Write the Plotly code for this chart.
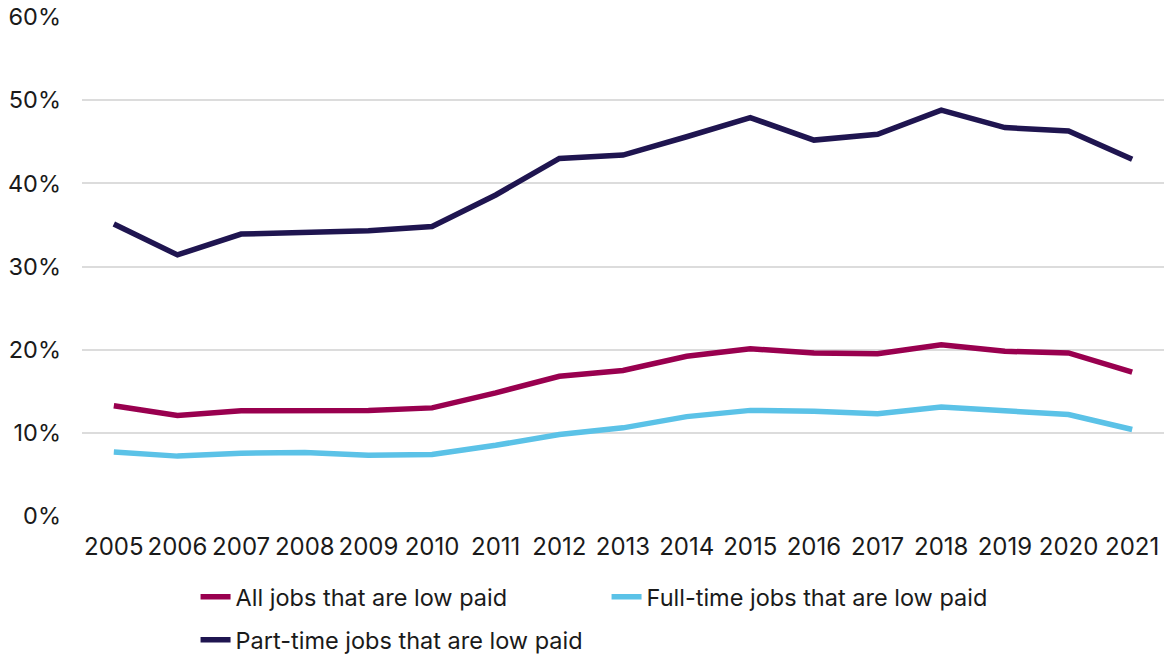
import plotly.graph_objects as go

years = [str(y) for y in range(2005, 2022)]
all_jobs = [13.25, 12.1, 12.65, 12.7, 12.7, 13.0, 14.8, 16.8, 17.5, 19.2, 20.1, 19.6, 19.5, 20.6, 19.8, 19.6, 17.3]
full_time = [7.7, 7.2, 7.55, 7.65, 7.3, 7.4, 8.5, 9.8, 10.6, 11.95, 12.7, 12.6, 12.3, 13.1, 12.65, 12.2, 10.4]
part_time = [35.1, 31.4, 33.9, 34.1, 34.3, 34.8, 38.6, 43.0, 43.4, 45.6, 47.9, 45.2, 45.9, 48.8, 46.7, 46.3, 42.9]

names = ["All jobs that are low paid", "Full-time jobs that are low paid", "Part-time jobs that are low paid"]
colors = ["#99004F", "#5BC2E7", "#1F1550"]
legends = ["legend", "legend", "legend2"]

fig = go.Figure()
for name, vals, col, lg in zip(names, [all_jobs, full_time, part_time], colors, legends):
    fig.add_trace(go.Scatter(x=years, y=vals, mode="lines", name=name,
                             line=dict(color=col, width=5.5), legend=lg))

legend_common = dict(orientation="h", xanchor="left", yanchor="middle",
                     xref="container", yref="container",
                     entrywidth=366, entrywidthmode="pixels",
                     font=dict(size=23.5), bgcolor="rgba(0,0,0,0)")

fig.update_layout(
    width=1164, height=655,
    margin=dict(l=82, r=0, t=17, b=139, autoexpand=False),
    paper_bgcolor="white", plot_bgcolor="white",
    font=dict(family="Inter, Roboto, sans-serif", size=22, color="#1a1a1a"),
    showlegend=True,
    legend=dict(x=0.168, y=1 - 597 / 655, **legend_common),
    legend2=dict(x=0.168, y=1 - 640 / 655, **legend_common),
    xaxis=dict(type="category", range=[-0.5, 16.5], automargin=False,
               showgrid=False, showline=False, ticks="",
               tickfont=dict(size=24), ticklabelstandoff=14),
    yaxis=dict(range=[0, 60], dtick=10, ticksuffix="%", showgrid=True,
               gridcolor="#dcdcdc", gridwidth=1.5, zeroline=False, showline=False,
               automargin=False,
               ticks="", ticklabelstandoff=20, tickfont=dict(size=23.5)),
)

fig.write_html("out.html")
